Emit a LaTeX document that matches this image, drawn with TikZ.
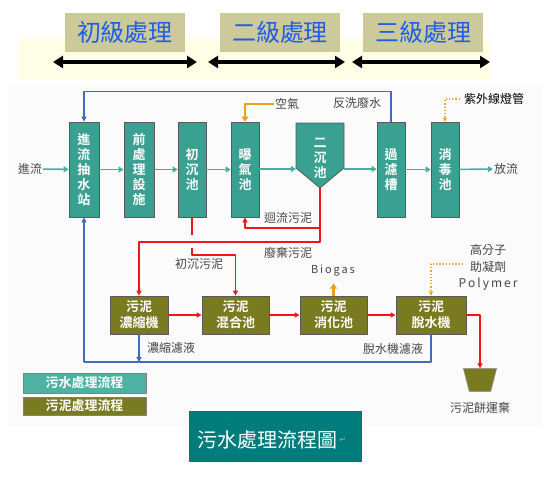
\documentclass[tikz,border=0pt]{standalone}
\usepackage{fontspec}
\setmainfont{Noto Sans CJK TC}[BoldFont={Noto Sans CJK TC Bold}]
\newfontfamily\symfont{DejaVu Sans}
\usetikzlibrary{positioning,arrows.meta}
\definecolor{wteal}{RGB}{58,160,145}
\definecolor{lteal}{RGB}{78,178,162}
\definecolor{flowc}{RGB}{70,175,160}
\definecolor{solive}{RGB}{122,122,32}
\definecolor{sred}{RGB}{238,22,22}
\definecolor{bblue}{RGB}{62,108,188}
\definecolor{aorange}{RGB}{240,160,30}
\definecolor{lblgray}{RGB}{70,70,70}
\definecolor{khaki}{RGB}{204,201,155}
\definecolor{hblue}{RGB}{30,95,230}
\definecolor{titleteal}{RGB}{0,124,124}
\definecolor{titleedge}{RGB}{160,40,90}
\begin{document}
\begin{tikzpicture}[x=1pt,y=-1pt,line join=round,>=Stealth]
			\tikzset{every node/.style={inner sep=1pt},
				wbox/.style={draw=black!65,line width=.8pt,fill=wteal,text=white,inner sep=0pt,
					minimum width=29pt,minimum height=95pt,align=center,font=\fontsize{13}{15}\selectfont\bfseries},
				sbox/.style={draw=black!65,line width=.8pt,fill=solive,text=white,inner sep=0pt,
					minimum height=38pt,align=center,font=\fontsize{13}{16}\selectfont\bfseries},
				head/.style={fill=khaki,text=hblue,minimum width=120pt,minimum height=39pt,font=\fontsize{24}{26}\selectfont},
				lbl/.style={text=lblgray,font=\fontsize{12}{16}\selectfont},
				flow/.style={->,draw=flowc,line width=1.6pt,>={Triangle[length=5pt,width=6pt]}},
				sludge/.style={draw=sred,line width=1.6pt,>={Triangle[length=5pt,width=5pt]}},
				back/.style={draw=bblue,line width=1.6pt,>={Triangle[length=5pt,width=5pt]}},
				air/.style={->,draw=aorange,line width=2.2pt,>={Triangle[length=5pt,width=7pt]}},
				dose/.style={->,draw=aorange,line width=1.2pt,dotted,>={Triangle[length=4pt,width=4pt]}},
				stage/.style={{Triangle[length=10pt,width=12pt]}-{Triangle[length=10pt,width=12pt]},line width=3.5pt}}
			\useasboundingbox (0,0) rectangle (550,485);
			\fill[white] (0,0) rectangle (550,485);
			\fill[black!1.5] (8,84) rectangle (542,426);
			\fill[yellow!10] (18,38) rectangle (490,80);
			% stages
			\node[head] (st1) at (125,32.5) {初級處理};
			\node[head] (st2) at (280,32.5) {二級處理};
			\node[head] (st3) at (423,32.5) {三級處理};
			\draw[stage] (53,62)--(197,62);
			\draw[stage] (208,62)--(345,62);
			\draw[stage] (352,62)--(490,62);
			% water line
			\node[wbox,minimum width=30pt] (intake) at (84,169.5) {進\\流\\抽\\水\\站};
			\node[wbox,minimum width=30pt] (pre) at (139,169.5) {前\\處\\理\\設\\施};
			\node[wbox,minimum width=28pt] (prim) at (192,169.5) {初\\沉\\池};
			\node[wbox,minimum width=28pt] (aer) at (245,169.5) {曝\\氣\\池};
			\node[wbox,minimum width=28pt] (filt) at (391,169.5) {過\\濾\\槽};
			\node[wbox,minimum width=28pt] (dis) at (445,169.5) {消\\毒\\池};
			\draw[draw=black!65,line width=.8pt,fill=wteal] (296,123)--(344,123)--(344,168)--(320,188)--(296,168)--cycle;
			\node[text=white,align=center,font=\fontsize{13}{15}\selectfont\bfseries] (sec) at (320,158) {二\\沉\\池};
			\coordinate (secW) at (296,169);
			\coordinate (secE) at (344,169);
			\coordinate (secB) at (320,188);
			\node[lbl] (inlbl) at (30,169) {進流};
			\node[lbl] (outlbl) at (506,169) {放流};
			\draw[flow] (inlbl)--(intake);
			\draw[flow] (intake)--(pre);
			\draw[flow] (pre)--(prim);
			\draw[flow] (prim)--(aer);
			\draw[flow] (aer.east|-secW)--(secW);
			\draw[flow] (secE)--(filt.west|-secE);
			\draw[flow] (filt)--(dis);
			\draw[flow] (dis)--(outlbl);
			\node[lbl] (airlbl) at (287,104) {空氣};
			\node[lbl] (bwlbl) at (357,103) {反洗廢水};
			\node[font=\fontsize{12}{14}\selectfont] (uvlbl) at (494,99) {紫外線燈管};
			\draw[back,->] (filt.north)--++(0,-30)-|(intake.north);
			\draw[air] (airlbl.west)-|(aer.north);
			\draw[dose] ([xshift=-3pt]uvlbl.west)-|(dis.north);
			% sludge line
			\node[sbox,minimum width=58pt] (thick) at (139,315) {污泥\\濃縮機};
			\node[sbox,minimum width=67pt] (mix) at (235.5,315) {污泥\\混合池};
			\node[sbox,minimum width=67pt] (dig) at (333.5,315) {污泥\\消化池};
			\node[sbox,minimum width=70pt] (dew) at (431,315) {污泥\\脫水機};
			\fill[solive,draw=black!40,line width=.5pt] (463.3,368.3)--(496.7,368.3)--(490.7,391.7)--(469.3,391.7)--cycle;
			\coordinate (cake) at (480,368.3);
			\coordinate (retJ) at (320,228);
			\coordinate (wasteJ) at (320,242);
			\draw[sludge,->] (secB)--(wasteJ)-|(thick.north);
			\draw[sludge,->] (retJ)-|(aer.south);
			\draw[sludge] (prim.south)--++(0,18);
			\draw[sludge,->] (192,248)--(192,255)-|(mix.north);
			\draw[sludge,->] (thick)--(mix);
			\draw[sludge,->] (mix)--(dig);
			\draw[sludge,->] (dig)--(dew);
			\draw[sludge,->] (dew.east)-|(cake);
			\node[lbl] (retlbl) at (288,218) {迴流污泥};
			\node[lbl] (wastelbl) at (288,253) {廢棄污泥};
			\node[lbl] (primlbl) at (199,264) {初沉污泥};
			\node[lbl,font=\fontsize{11}{14}\selectfont] (gaslbl) at (333,271) {B\,i\,o\,g\,a\,s};
			\draw[air] (dig.north)--++(0,-12);
			\node[lbl,align=center,font=\fontsize{12}{16.5}\selectfont] (polylbl) at (488,267.5) {高分子\\助凝劑\\P\,o\,l\,y\,m\,e\,r};
			\draw[dose] (463,264)-|(dew.north);
			\coordinate (retBL) at (84,362);
			\draw[back] (dew.south)|-(retBL);
			\draw[back,->] (retBL)--(intake.south);
			\draw[back,->] (thick.south)--(thick.south|-retBL);
			\node[lbl] (thlbl) at (171,348) {濃縮濾液};
			\node[lbl] (dwlbl) at (393,349) {脫水機濾液};
			\node[lbl] (cakelbl) at (480,408) {污泥餅運棄};
			% legend
			\node[draw=black!50,fill=lteal,text=white,minimum width=123pt,minimum height=20pt,inner sep=0pt,
				font=\fontsize{13}{15}\selectfont\bfseries] (legw) at (84.5,383) {污水處理流程};
			\node[draw=black!50,fill=solive,text=white,minimum width=123pt,minimum height=18pt,inner sep=0pt,
				font=\fontsize{13}{15}\selectfont\bfseries] (legs) at (84.5,406) {污泥處理流程};
			\node[draw=titleedge,fill=titleteal,minimum width=172pt,minimum height=50pt,line width=.6pt] (title) at (275,436) {};
			\node[text=white,font=\fontsize{20}{22}\selectfont] (titletxt) at (267,440) {污水處理流程圖};
			\node[text=black!35,font=\symfont\fontsize{8}{9}\selectfont,right=0pt of titletxt] (pmark) {↵};
\end{tikzpicture}
\end{document}
